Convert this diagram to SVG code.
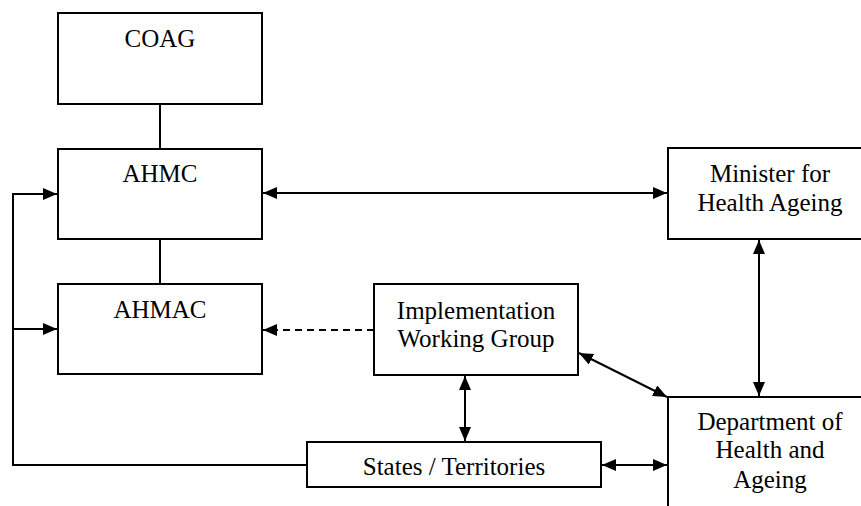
<svg xmlns="http://www.w3.org/2000/svg" width="861" height="506" viewBox="0 0 861 506">
<style>
.box{fill:#fff;stroke:#000;stroke-width:2}
.ln{fill:none;stroke:#000;stroke-width:2}
.dash{stroke-dasharray:7,5}
text{font-family:"Liberation Serif","Times New Roman",serif;font-size:25px;fill:#000;text-anchor:middle}
</style>
<defs>
<marker id="ah" markerUnits="userSpaceOnUse" markerWidth="14" markerHeight="12" refX="14" refY="6" orient="auto-start-reverse" viewBox="0 0 14 12">
<path d="M0,0 L14,6 L0,12 z" fill="#000"/>
</marker>
</defs>
<rect width="861" height="506" fill="#fff"/>
<g id="connectors">
<line class="ln" x1="160" y1="104" x2="160" y2="149"/>
<line class="ln" x1="160" y1="239" x2="160" y2="284"/>
<polyline class="ln" points="307,465 13,465 13,194 57,194" marker-end="url(#ah)"/>
<polyline class="ln" points="13,329 57,329" marker-end="url(#ah)"/>
<line class="ln" x1="263" y1="193" x2="667" y2="193" marker-start="url(#ah)" marker-end="url(#ah)"/>
<line class="ln dash" x1="374" y1="330" x2="263" y2="330" marker-end="url(#ah)"/>
<line class="ln" x1="759" y1="240" x2="759" y2="396" marker-start="url(#ah)" marker-end="url(#ah)"/>
<line class="ln" x1="579" y1="353" x2="667" y2="397" marker-start="url(#ah)" marker-end="url(#ah)"/>
<line class="ln" x1="465" y1="376" x2="465" y2="441" marker-start="url(#ah)" marker-end="url(#ah)"/>
<line class="ln" x1="602" y1="465" x2="667" y2="465" marker-start="url(#ah)" marker-end="url(#ah)"/>
</g>
<g id="coag">
<rect class="box" x="58" y="13" width="204" height="91"/>
<text x="160" y="47">COAG</text>
</g>
<g id="ahmc">
<rect class="box" x="58" y="149" width="204" height="90"/>
<text x="160" y="182">AHMC</text>
</g>
<g id="ahmac">
<rect class="box" x="58" y="284" width="204" height="90"/>
<text x="160" y="318">AHMAC</text>
</g>
<g id="iwg">
<rect class="box" x="374" y="284" width="204" height="91"/>
<text x="476" y="319">Implementation</text>
<text x="476" y="347">Working Group</text>
</g>
<g id="minister">
<rect class="box" x="668" y="148" width="204" height="91"/>
<text x="770" y="182">Minister for</text>
<text x="770" y="211">Health Ageing</text>
</g>
<g id="states">
<rect class="box" x="307" y="442" width="294" height="45"/>
<text x="454" y="475">States / Territories</text>
</g>
<g id="doha">
<rect class="box" x="668" y="397" width="204" height="130"/>
<text x="770" y="430">Department of</text>
<text x="770" y="458">Health and</text>
<text x="770" y="488">Ageing</text>
</g>
</svg>
